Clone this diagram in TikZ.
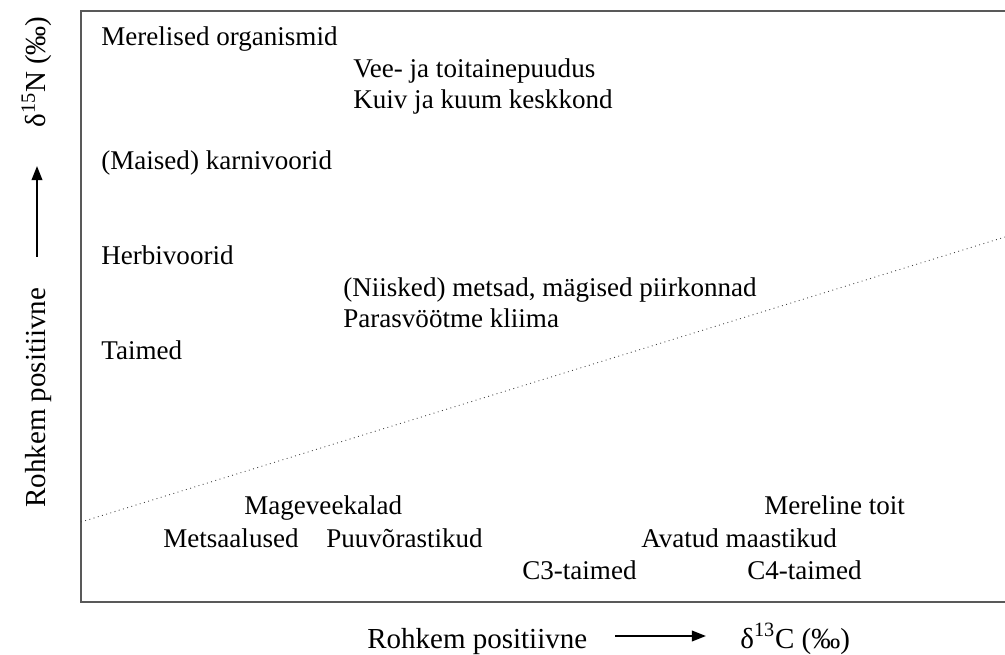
\documentclass[tikz,border=0pt]{standalone}
\usepackage{fontspec}
\setmainfont{Liberation Serif}
\usepackage{tikz}
\usetikzlibrary{arrows.meta, positioning}
\newcommand{\LabelFont}{\fontsize{15.4}{18}\selectfont}
\newcommand{\AxisFont}{\fontsize{16.5}{20}\selectfont}

\begin{document}
\begin{tikzpicture}[x=0.02cm, y=-0.02cm,
  lbl/.style={anchor=base west, inner sep=0pt, font=\LabelFont},
  axlbl/.style={anchor=base west, inner sep=0pt, font=\AxisFont},
  axarrow/.style={line width=1.1pt, -{Triangle[length=8pt,width=6pt]}}]
\useasboundingbox (0,0) rectangle (1005,655);
% draw frame (open to the right)
\draw[line width=0.9pt, black!65] (1010,11) -- (81,11) -- (81,602) -- (1010,602);
% dotted dividing line
\coordinate (dl) at (81,522);
\coordinate (dr) at (1005,237);
\draw[dotted, black!75, line width=0.5pt] (dl) -- (dr);
% labels inside the frame
\foreach \nm/\x/\y/\txt in {merel/101/46/Merelised organismid,
    vee/353/78/Vee- ja toitainepuudus,
    kuiv/353/109/Kuiv ja kuum keskkond,
    karni/101/170/(Maised) karnivoorid,
    herbi/101/265/Herbivoorid,
    niisk/343/297/{(Niisked) metsad, mägised piirkonnad},
    paras/343/328/Parasvöötme kliima,
    taim/101/360/Taimed,
    mage/244/515/Mageveekalad,
    metsa/163/547/Metsaalused,
    puuv/326/547/Puuvõrastikud,
    cthree/522/579/C3-taimed,
    meretoit/764/515/Mereline toit,
    avatud/641/547/Avatud maastikud,
    cfour/747/579/C4-taimed}
  \node[lbl] (\nm) at (\x,\y) {\txt};
% horizontal axis
\node[axlbl] (xtxt) at (367,648) {Rohkem positiivne};
\node[axlbl] (xdelta) at (740,648) {δ\textsuperscript{13}C (‰)};
\coordinate (xa) at (615,636);
\coordinate (xb) at (706,636);
\draw[axarrow] (xa) -- (xb);
% vertical axis
\node[axlbl, rotate=90] (ytxt) at (46,508) {Rohkem positiivne};
\node[axlbl, rotate=90] (ydelta) at (46,128) {δ\textsuperscript{15}N (‰)};
\coordinate (ya) at (37,257);
\coordinate (yb) at (37,166);
\draw[axarrow] (ya) -- (yb);
\end{tikzpicture}
\end{document}
